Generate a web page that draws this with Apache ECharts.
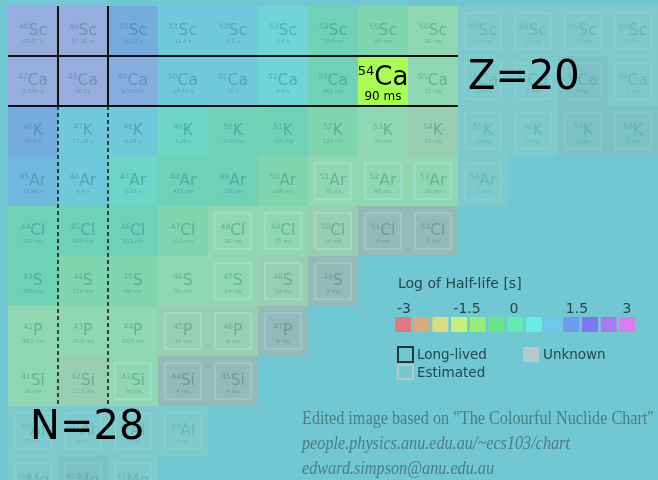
<!DOCTYPE html>
<html>
<head>
<meta charset="utf-8">
<script src="https://cdn.jsdelivr.net/npm/echarts@6/dist/echarts.min.js"></script>
<style>
  html, body { margin: 0; padding: 0; background: #72c8d2; }
  #main { width: 658px; height: 480px; }
</style>
</head>
<body>
<div id="main"></div>
<script>
// rows, top (Sc) to bottom (Mg); every row starts at N = 27
const symbols = ['Sc', 'Ca', 'K', 'Ar', 'Cl', 'S', 'P', 'Si', 'Al', 'Mg'];
const protonNumbers = [21, 20, 19, 18, 17, 16, 15, 14, 13, 12];
const firstN = 27;

// half-lives as printed in the boxes
const scHalfLife = ['43.67 h', '57.18 m', '102.5 s', '12.4 s', '8.2 s', '2.4 s', '526 ms', '96 ms', '26 ms', '22 ms', '12 ms', '12 ms', '10 ms'];
const caHalfLife = ['4.536 d', '56 Ey', '8.718 m', '13.45 s', '10 s', '4.6 s', '461 ms', '90 ms', '22 ms', '11 ms', '8 ms', '4 ms', '5 ms'];
const kHalfLife = ['96.3 s', '17.38 s', '6.83 s', '1.26 s', '472 ms', '365 ms', '110 ms', '30 ms', '10 ms', '10 ms', '5 ms', '2 ms', '2 ms'];
const arHalfLife = ['21.48 s', '8.4 s', '1.23 s', '415 ms', '236 ms', '106 ms', '30 ms', '40 ms', '20 ms', '5 ms'];
const clHalfLife = ['562 ms', '413 ms', '232 ms', '101 ms', '30 ms', '35 ms', '10 ms', '5 ms', '2 ms'];
const sHalfLife = ['265 ms', '100 ms', '68 ms', '50 ms', '24 ms', '10 ms', '4 ms'];
const pHalfLife = ['48.5 ms', '35.8 ms', '18.5 ms', '10 ms', '9 ms', '4 ms'];
const siHalfLife = ['20 ms', '12.5 ms', '30 ms', '4 ms', '4 ms'];
const alHalfLife = ['10 ms', '6 ms', '5 ms', '4 ms'];
const mgHalfLife = ['3 ms', '2 ms', '2 ms'];

// m measured, e estimated, u unknown, d faded, x faded unknown, h highlighted
const scStatus = 'mmmmmmmmmdddd';
const caStatus = 'mmmmmmmhmddxd';
const kStatus = 'mmmmmmmmmddxx';
const arStatus = 'mmmmmmeeed';
const clStatus = 'mmmmeeeuu';
const sStatus = 'mmmmeeu';
const pStatus = 'mmmeeu';
const siStatus = 'mmeuu';
const alStatus = 'dddd';
const mgStatus = 'dxd';

// colour scale (log10 of half-life in s)
const legendSteps = [-3, -2.5, -2, -1.5, -1, -0.5, 0, 0.5, 1, 1.5, 2, 2.5, 3];
const legendColors = ['#dc7c82', '#dca87e', '#dcdc80', '#c4f080', '#98ec78', '#68e488', '#64e8b4',
  '#68ece4', '#6cc8ec', '#6c9cf0', '#7c78f0', '#a87cf0', '#d87cf0'];
const legendTicks = ['-3', '-1.5', '0', '1.5', '3'];

// guide lines
const magicZ = 20;
const magicN = 28;

const halfLifeRows = [scHalfLife, caHalfLife, kHalfLife, arHalfLife, clHalfLife, sHalfLife, pHalfLife, siHalfLife, alHalfLife, mgHalfLife];
const statusRows = [scStatus, caStatus, kStatus, arStatus, clStatus, sStatus, pStatus, siStatus, alStatus, mgStatus];

const unitSeconds = {ms: 1e-3, s: 1, m: 60, h: 3600, d: 86400, Ey: 3.156e25};
function toLog(txt) {
  const parts = txt.split(' ');
  return Math.log10(parseFloat(parts[0]) * unitSeconds[parts[1]]);
}

const cells = [];
symbols.forEach((sym, r) => {
  const z = protonNumbers[r];
  halfLifeRows[r].forEach((hl, i) => {
    const n = firstN + i;
    cells.push({n: n, z: z, mass: n + z, symbol: sym, text: hl, logT: toLog(hl), status: statusRows[r][i]});
  });
});

const textCol = 'rgba(30,90,110,0.33)';
const cellLook = {
  m: {opacity: 0.36, text: textCol},
  e: {opacity: 0.36, text: textCol, box: 'rgba(175,235,232,0.5)'},
  u: {fill: '#94b9b7', opacity: 1, text: textCol, box: 'rgba(170,220,220,0.5)'},
  d: {fill: '#7ec9cb', opacity: 1, text: 'rgba(60,140,150,0.3)', box: 'rgba(150,215,215,0.4)'},
  x: {fill: '#7bc1c6', opacity: 1, text: 'rgba(60,140,150,0.3)', box: 'rgba(150,210,210,0.4)'},
  h: {fill: '#a8fc58', opacity: 1, text: '#000'}
};

function renderCell(params, api) {
  const cell = cells[params.dataIndex];
  const c = api.coord([api.value(0), api.value(1)]);
  const size = api.size([1, 1]);
  const w = size[0], h = size[1];
  const look = cellLook[cell.status];
  const big = cell.status === 'h';
  const children = [{
    type: 'rect',
    shape: {x: c[0] - w / 2, y: c[1] - h / 2, width: w, height: h},
    style: {fill: look.fill || api.visual('color'), opacity: look.opacity}
  }];
  if (look.box) {
    children.push({
      type: 'rect',
      shape: {x: c[0] - w / 2 + 7, y: c[1] - h / 2 + 7, width: w - 14, height: h - 14},
      style: {fill: 'none', stroke: look.box, lineWidth: 1.5}
    });
  }
  children.push({
    type: 'text',
    style: {
      text: '{a|' + cell.mass + '}{b|' + cell.symbol + '}',
      x: c[0], y: c[1] + (big ? -3 : 0),
      align: 'center', verticalAlign: 'middle',
      rich: {
        a: {fontSize: big ? 13 : 7.5, fontFamily: 'DejaVu Sans', fill: look.text, verticalAlign: 'top'},
        b: {fontSize: big ? 26 : 15.5, fontFamily: 'DejaVu Sans', fill: look.text, verticalAlign: 'middle'}
      }
    }
  });
  children.push({
    type: 'text',
    style: {
      text: cell.text, x: c[0], y: c[1] + (big ? 16 : 11),
      align: 'center', verticalAlign: 'middle',
      fontSize: big ? 12 : 5.5, fontFamily: 'DejaVu Sans', fill: look.text
    }
  });
  return {type: 'group', children: children};
}

const pieces = legendSteps.map((s, i) => {
  const p = {color: legendColors[i]};
  if (i > 0) p.gte = s - 0.25;
  if (i < legendSteps.length - 1) p.lt = s + 0.25;
  return p;
});

const zLo = magicZ - 0.5, zHi = magicZ + 0.5;
const nLo = magicN - 0.5, nHi = magicN + 0.5;
const guideStyle = {color: '#111', width: 2};

const tickX = [404, 467, 514, 577, 627];
const creditFill = '#4b7d85';

let myChart = echarts.init(document.getElementById('main'));
let option = {
  animation: false,
  backgroundColor: '#72c8d2',
  // 50 px per nucleon step; the Mg row runs off the bottom edge
  grid: {left: 8, top: 6, width: 650, height: 474},
  xAxis: {type: 'value', min: 26.5, max: 39.5, show: false},
  yAxis: {type: 'value', min: 12.02, max: 21.5, show: false},
  visualMap: {
    type: 'piecewise',
    seriesIndex: 0,
    dimension: 2,
    pieces: pieces,
    orient: 'horizontal',
    left: 395, top: 317,
    padding: 0,
    itemWidth: 16, itemHeight: 15, itemGap: 2.7,
    itemSymbol: 'rect',
    showLabel: false,
    hoverLink: false
  },
  series: [
    {
      type: 'custom',
      renderItem: renderCell,
      data: cells.map(c => [c.n, c.z, c.logT]),
      z: 2
    },
    {
      type: 'line', z: 5, symbol: 'none', lineStyle: guideStyle,
      data: [[26.5, zHi], [35.5, zHi], ['-', '-'], [26.5, zLo], [35.5, zLo]]
    },
    {
      type: 'line', z: 5, symbol: 'none', lineStyle: guideStyle,
      data: [[nLo, 21.5], [nLo, zLo], ['-', '-'], [nHi, 21.5], [nHi, zLo]]
    },
    {
      type: 'line', z: 5, symbol: 'none',
      lineStyle: {color: '#111', width: 1.5, type: [4, 3]},
      data: [[nLo, zLo], [nLo, 13.5], ['-', '-'], [nHi, zLo], [nHi, 13.5]]
    }
  ],
  graphic: [
    {type: 'text', z: 100, x: 468, y: 79, style: {text: 'Z=' + magicZ, font: '40px "DejaVu Sans"', fill: '#000', verticalAlign: 'middle'}},
    {type: 'text', z: 100, x: 30, y: 429, style: {text: 'N=' + magicN, font: '40px "DejaVu Sans"', fill: '#000', verticalAlign: 'middle'}},
    {type: 'text', z: 100, x: 398, y: 284, style: {text: 'Log of Half-life [s]', font: '14px "DejaVu Sans"', fill: '#24474e', verticalAlign: 'middle'}}
  ].concat(legendTicks.map((t, i) => ({
    type: 'text', z: 100, x: tickX[i], y: 309,
    style: {text: t, font: '14px "DejaVu Sans"', fill: '#24474e', align: 'center', verticalAlign: 'middle'}
  }))).concat([
    {type: 'rect', z: 100, shape: {x: 398, y: 347, width: 15, height: 15}, style: {fill: 'none', stroke: '#1e3a3e', lineWidth: 2}},
    {type: 'rect', z: 100, shape: {x: 398, y: 365, width: 15, height: 14}, style: {fill: 'none', stroke: '#b4c8c8', lineWidth: 2}},
    {type: 'rect', z: 100, shape: {x: 523, y: 347, width: 16, height: 15}, style: {fill: '#b6c9cb'}},
    {type: 'text', z: 100, x: 417, y: 355, style: {text: 'Long-lived', font: '13.5px "DejaVu Sans"', fill: '#24474e', verticalAlign: 'middle'}},
    {type: 'text', z: 100, x: 417, y: 373, style: {text: 'Estimated', font: '13.5px "DejaVu Sans"', fill: '#24474e', verticalAlign: 'middle'}},
    {type: 'text', z: 100, x: 543, y: 355, style: {text: 'Unknown', font: '13.5px "DejaVu Sans"', fill: '#24474e', verticalAlign: 'middle'}},
    {type: 'text', z: 100, x: 302, y: 419, scaleX: 0.9,
      style: {text: 'Edited image based on "The Colourful Nuclide Chart"', font: '18px "Liberation Serif"', fill: creditFill, verticalAlign: 'middle'}},
    {type: 'text', z: 100, x: 302, y: 444, scaleX: 0.9,
      style: {text: 'people.physics.anu.edu.au/~ecs103/chart', font: 'italic 18px "Liberation Serif"', fill: creditFill, verticalAlign: 'middle'}},
    {type: 'text', z: 100, x: 302, y: 469, scaleX: 0.9,
      style: {text: 'edward.simpson@anu.edu.au', font: 'italic 18px "Liberation Serif"', fill: creditFill, verticalAlign: 'middle'}}
  ])
};
myChart.setOption(option);
</script>
</body>
</html>
